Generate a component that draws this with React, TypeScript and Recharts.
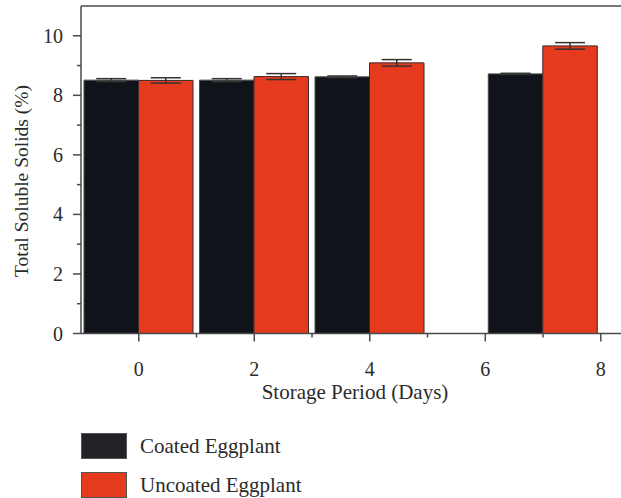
import { BarChart, Bar, XAxis, YAxis, ErrorBar, ReferenceLine, Label } from 'recharts'

const days = [0, 2, 4, 7]
const coated = [8.51, 8.51, 8.62, 8.72]
const coatedErr = [0.05, 0.05, 0.03, 0.02]
const uncoated = [8.5, 8.63, 9.09, 9.66]
const uncoatedErr = [0.09, 0.1, 0.11, 0.11]
const xTicks = [0, 1, 2, 3, 4, 5, 6, 7, 8]
const yTicks = [0, 1, 2, 3, 4, 5, 6, 7, 8, 9, 10]
const seriesNames = ['Coated Eggplant', 'Uncoated Eggplant']
const colors = ['#10131a', '#e63a1e']

const data = days.map((day, i) => ({
  day,
  coated: coated[i],
  coatedErr: coatedErr[i],
  uncoated: uncoated[i],
  uncoatedErr: uncoatedErr[i],
}))

const font = '"Liberation Serif", "DejaVu Serif", serif'
const ink = '#2b2b2b'
const axisGrey = '#4a4a4a'

function XTick(props: any) {
  const { x, y, payload } = props
  const major = payload.value % 2 === 0
  return (
    <g>
      <line x1={x} x2={x} y1={y} y2={y + (major ? 8 : 4)} stroke={axisGrey} strokeWidth={1.5} />
      {major && (
        <text x={x} y={y + 42} textAnchor="middle" fontFamily={font} fontSize={20} fill={ink}>
          {payload.value}
        </text>
      )}
    </g>
  )
}

function YTick(props: any) {
  const { x, y, payload } = props
  const major = payload.value % 2 === 0
  return (
    <g>
      <line x1={x - (major ? 8 : 4)} x2={x} y1={y} y2={y} stroke={axisGrey} strokeWidth={1.5} />
      {major && (
        <text x={x - 18} y={y + 7} textAnchor="end" fontFamily={font} fontSize={20} fill={ink}>
          {payload.value}
        </text>
      )}
    </g>
  )
}

export default function App() {
  return (
    <div style={{ position: 'absolute', left: 0, top: 0, width: 621, height: 498, background: '#fff' }}>
      <BarChart
        width={621}
        height={498}
        data={data}
        margin={{ top: 6, right: 0, left: 0, bottom: 104.5 }}
        barGap={0}
        barSize={54.5}
      >
        <XAxis
          dataKey="day"
          type="number"
          domain={[-1, 8.35]}
          allowDataOverflow
          ticks={xTicks}
          interval={0}
          height={60}
          tickSize={0}
          tickMargin={0}
          tickLine={false}
          axisLine={{ stroke: axisGrey, strokeWidth: 1.5 }}
          tick={(p: any) => <XTick {...p} />}
        >
          <Label
            content={() => (
              <text x={355} y={399} textAnchor="middle" fontFamily={font} fontSize={21} fill={ink}>
                Storage Period (Days)
              </text>
            )}
          />
        </XAxis>
        <YAxis
          type="number"
          domain={[0, 11]}
          allowDataOverflow
          ticks={yTicks}
          interval={0}
          width={81}
          tickSize={0}
          tickMargin={0}
          tickLine={false}
          axisLine={{ stroke: axisGrey, strokeWidth: 1.5 }}
          tick={(p: any) => <YTick {...p} />}
        >
          <Label
            content={() => (
              <text
                transform="translate(28,181) rotate(-90)"
                textAnchor="middle"
                fontFamily={font}
                fontSize={19.5}
                fill={ink}
              >
                Total Soluble Solids (%)
              </text>
            )}
          />
        </YAxis>
        <ReferenceLine y={11} stroke={axisGrey} strokeWidth={1.5} />
        <Bar dataKey="coated" fill={colors[0]} stroke="#4a4a4a" strokeWidth={1} isAnimationActive={false}>
          <ErrorBar dataKey="coatedErr" width={15} stroke="#333" strokeWidth={1.5} isAnimationActive={false} />
        </Bar>
        <Bar dataKey="uncoated" fill={colors[1]} stroke="#3a2a2a" strokeWidth={1} isAnimationActive={false}>
          <ErrorBar dataKey="uncoatedErr" width={15} stroke="#333" strokeWidth={1.5} isAnimationActive={false} />
        </Bar>
      </BarChart>
      {seriesNames.map((name, i) => (
        <div
          key={name}
          style={{ position: 'absolute', left: 81, top: 433 + i * 39, display: 'flex', alignItems: 'center' }}
        >
          <div
            style={{
              width: 44,
              height: 24,
              background: i === 0 ? '#222326' : colors[1],
              border: '1px solid #555',
            }}
          />
          <span style={{ marginLeft: 13, fontFamily: font, fontSize: 21, color: ink }}>{name}</span>
        </div>
      ))}
    </div>
  )
}
